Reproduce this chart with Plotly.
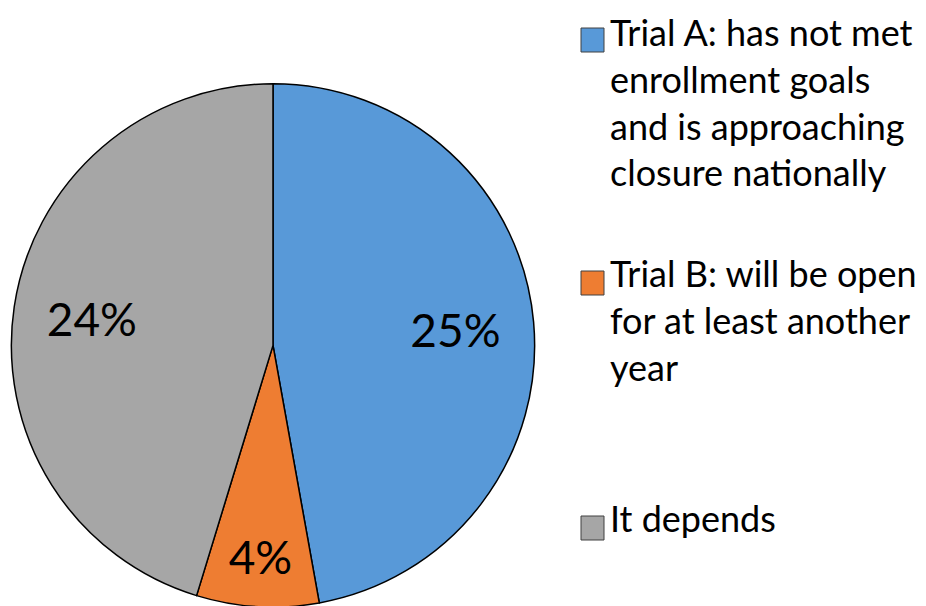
import plotly.graph_objects as go

# Survey answers (counts, shown with a % sign as in the original)
labels = [
    "Trial A: has not met<br>enrollment goals<br>and is approaching<br>closure nationally",
    "Trial B: will be open<br>for at least another<br>year",
    "It depends",
]
values = [25, 4, 24]
colors = ["#5899d8", "#ee7d32", "#a6a6a6"]

pie_domain = dict(x=[3 / 926, 527 / 926], y=[0.0115, 0.875])

fig = go.Figure()

# the pie itself
fig.add_trace(go.Pie(
    labels=labels,
    values=values,
    sort=False,
    direction="clockwise",
    rotation=0,
    marker=dict(colors=colors, line=dict(color="#000000", width=1.5)),
    textinfo="none",
    domain=pie_domain,
    showlegend=False,
    hoverinfo="label+value",
))

# transparent ring on top, only to push the value labels outward like Excel does
fig.add_trace(go.Pie(
    labels=labels,
    values=values,
    sort=False,
    direction="clockwise",
    rotation=0,
    hole=0.4,
    marker=dict(colors=["rgba(0,0,0,0)"] * len(values), line=dict(width=0)),
    texttemplate="%{value}%",
    textposition="inside",
    insidetextorientation="horizontal",
    textfont=dict(family="Lato", size=46, color="#000000"),
    domain=pie_domain,
    showlegend=False,
    hoverinfo="skip",
))

# hand-made legend: square marker level with the first line of each entry
legend_y = [1 - 32 / 606, 1 - 275 / 606, 1 - 520 / 606]
for lab, col, ly in zip(labels, colors, legend_y):
    fig.add_shape(
        type="rect", xref="paper", yref="paper",
        x0=573 / 926, x1=596 / 926, y0=ly - 12 / 606, y1=ly + 12 / 606,
        fillcolor=col, line=dict(color="#404040", width=1),
    )
    fig.add_annotation(
        x=600 / 926, y=min(ly + 34 / 606, 1), xref="paper", yref="paper",
        xanchor="left", yanchor="top", align="left",
        text=lab, showarrow=False,
        font=dict(family="Lato", size=36, color="#000000"),
    )

fig.update_layout(
    width=926, height=606,
    margin=dict(l=0, r=0, t=0, b=0),
    paper_bgcolor="white",
    plot_bgcolor="white",
    uniformtext=dict(minsize=44, mode="show"),
)

fig.write_html("out.html")
